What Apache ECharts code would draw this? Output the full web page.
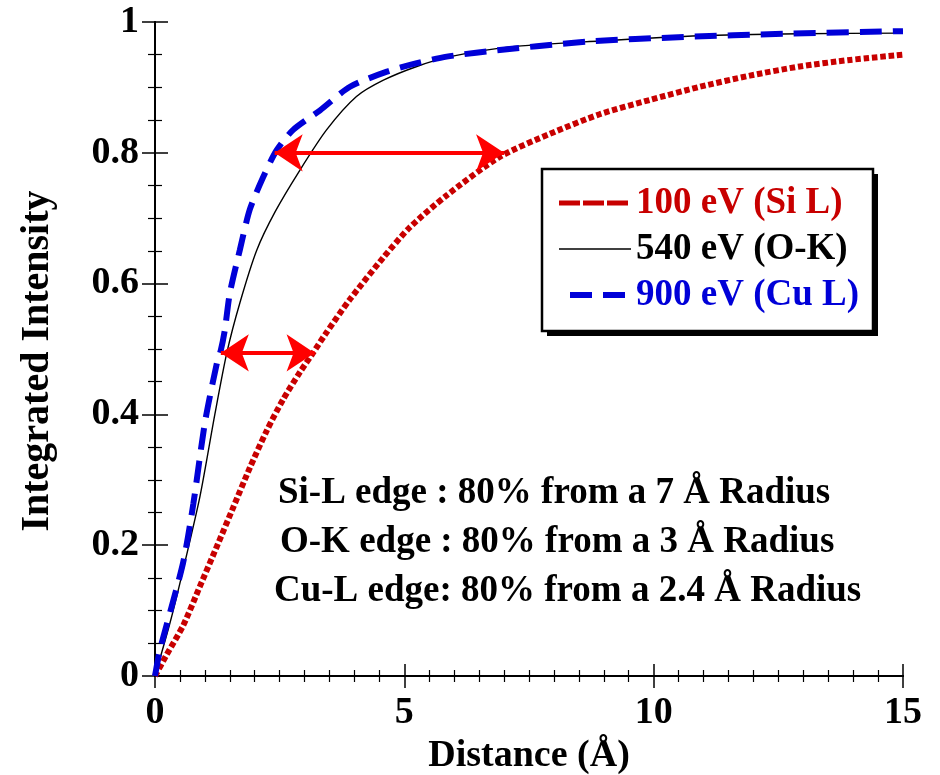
<!DOCTYPE html>
<html>
<head>
<meta charset="utf-8">
<script src="https://cdn.jsdelivr.net/npm/echarts@6/dist/echarts.min.js"></script>
<style>
  html, body { margin: 0; padding: 0; background: #ffffff; }
  #chart { width: 940px; height: 775px; }
</style>
</head>
<body>
<div id="chart"></div>
<script>
// Integrated intensity versus distance for three energy-loss edges
const seriesNames = ['100 eV (Si L)', '540 eV (O-K)', '900 eV (Cu L)'];

// 100 eV (Si L)
const siX = [0, 0.23, 0.57, 0.9, 1.24, 1.57, 1.9, 2.24, 2.57, 2.91, 3.17, 3.41, 3.91, 4.58, 5.11, 5.85, 6.92, 7.92, 8.92, 9.93, 10.93, 11.93, 12.93, 13.94, 15];
const siY = [0, 0.032, 0.078, 0.137, 0.198, 0.258, 0.318, 0.375, 0.423, 0.465, 0.494, 0.522, 0.576, 0.640, 0.686, 0.735, 0.794, 0.829, 0.859, 0.881, 0.901, 0.918, 0.932, 0.942, 0.950];

// 540 eV (O-K)
const okX = [0, 0.3, 0.5, 0.9, 1.2, 1.44, 1.7, 2.04, 2.41, 2.91, 3.44, 4.04, 4.58, 5.25, 5.92, 7.12, 8.92, 10.93, 12.93, 15];
const okY = [0, 0.081, 0.142, 0.274, 0.40, 0.494, 0.570, 0.651, 0.710, 0.774, 0.835, 0.886, 0.911, 0.932, 0.947, 0.962, 0.971, 0.979, 0.982, 0.983];

// 900 eV (Cu L)
const cuX = [0, 0.1, 0.56, 0.77, 1.0, 1.24, 1.32, 1.40, 1.50, 1.70, 1.90, 2.17, 2.44, 2.77, 3.31, 3.91, 4.65, 5.25, 5.85, 6.65, 8.66, 10.6, 12.6, 15];
const cuY = [0, 0.04, 0.172, 0.264, 0.387, 0.478, 0.498, 0.529, 0.585, 0.651, 0.713, 0.763, 0.804, 0.835, 0.865, 0.901, 0.924, 0.937, 0.947, 0.955, 0.970, 0.977, 0.982, 0.986];

// Double-headed arrows: [fromX, toX, level]
const arrowSpans = [
  [2.4, 7.0, 0.8],
  [1.32, 3.2, 0.494]
];

const notes = [
  'Si-L edge : 80% from a 7 \u00C5 Radius',
  'O-K edge : 80% from a 3 \u00C5 Radius',
  'Cu-L edge: 80% from a 2.4 \u00C5 Radius'
];

const xTitle = 'Distance (\u00C5)';
const yTitle = 'Integrated Intensity';

const FONT = '"Liberation Serif", "Times New Roman", serif';
const RED = '#c80000';
const BLUE = '#0000d8';

const zip = (xs, ys) => xs.map((x, i) => [x, ys[i]]);

const chart = echarts.init(document.getElementById('chart'), null, { renderer: 'canvas' });

const baseX = {
  type: 'value', min: 0, max: 15, interval: 5,
  axisLine: { show: true, lineStyle: { color: '#000', width: 2 } },
  axisTick: { show: true, inside: true, length: 12, lineStyle: { color: '#000', width: 1.5 } },
  minorTick: { show: true, splitNumber: 10, length: 6, lineStyle: { color: '#000', width: 1.2 } },
  splitLine: { show: false },
  minorSplitLine: { show: false }
};
const baseY = {
  type: 'value', min: 0, max: 1, interval: 0.2,
  axisLine: { show: true, lineStyle: { color: '#000', width: 2 } },
  axisTick: { show: true, inside: true, length: 13, lineStyle: { color: '#000', width: 1.5 } },
  minorTick: { show: true, splitNumber: 4, length: 7, lineStyle: { color: '#000', width: 1.2 } },
  splitLine: { show: false },
  minorSplitLine: { show: false }
};

// legend frame: shadow block plus bordered white panel
const frame = { x: 542, y: 169, w: 331, h: 162, shadow: 5 };

const hiddenMarker = { opacity: 0 };

const option = {
  backgroundColor: '#ffffff',
  animation: false,
  grid: { left: 155, right: 37, top: 22, bottom: 99, containLabel: false, outerBoundsMode: 'none' },
  xAxis: [
    Object.assign({}, baseX, {
      position: 'bottom',
      name: xTitle, nameLocation: 'middle', nameGap: 58,
      nameTextStyle: { fontFamily: FONT, fontWeight: 'bold', fontSize: 38, color: '#000' },
      axisLabel: { show: true, margin: 18, fontFamily: FONT, fontWeight: 'bold', fontSize: 38, color: '#000' }
    }),
    Object.assign({}, baseX, { position: 'top', axisLabel: { show: false } })
  ],
  yAxis: [
    Object.assign({}, baseY, {
      position: 'left',
      name: yTitle, nameLocation: 'middle', nameGap: 97, nameRotate: 90,
      nameTextStyle: { fontFamily: FONT, fontWeight: 'bold', fontSize: 40, color: '#000', padding: [0, 24, 0, 0] },
      axisLabel: {
        show: true, margin: 16, fontFamily: FONT, fontWeight: 'bold', fontSize: 38, color: '#000',
        formatter: v => (v === 0 || v === 1) ? String(v) : v.toFixed(1)
      }
    }),
    Object.assign({}, baseY, { position: 'right', axisLabel: { show: false } })
  ],
  legend: {
    orient: 'vertical',
    left: frame.x, top: frame.y,
    padding: [14, 12, 14, 14],
    backgroundColor: 'transparent',
    borderWidth: 0,
    itemWidth: 72, itemHeight: 8, itemGap: 6,
    selectedMode: false,
    z: 12,
    textStyle: { fontFamily: FONT, fontWeight: 'bold', fontSize: 37, lineHeight: 40 },
    data: [
      { name: seriesNames[0], itemStyle: hiddenMarker, textStyle: { color: RED }, lineStyle: { type: [21, 3], width: 5, color: RED, cap: 'butt' } },
      { name: seriesNames[1], itemStyle: hiddenMarker, textStyle: { color: '#000' }, lineStyle: { type: 'solid', width: 1.4, color: '#000' } },
      { name: seriesNames[2], itemStyle: hiddenMarker, textStyle: { color: BLUE }, lineStyle: { type: [22, 11], dashOffset: 22, width: 6, color: BLUE, cap: 'butt' } }
    ]
  },
  series: [
    {
      name: seriesNames[0], type: 'line', data: zip(siX, siY),
      symbol: 'none', smooth: 0.25, z: 3,
      lineStyle: { color: RED, width: 6, type: [5.5, 2.8], cap: 'butt' },
      itemStyle: { color: RED }
    },
    {
      name: seriesNames[1], type: 'line', data: zip(okX, okY),
      symbol: 'none', smooth: 0.25, z: 2,
      lineStyle: { color: '#000', width: 1.4, type: 'solid' },
      itemStyle: { color: '#000' },
      markLine: {
        silent: true,
        symbol: ['arrow', 'arrow'],
        symbolSize: [28, 28],
        label: { show: false },
        emphasis: { disabled: true },
        lineStyle: { color: '#ff0000', width: 4, type: 'solid' },
        itemStyle: { color: '#ff0000' },
        data: arrowSpans.map(s => [{ coord: [s[0], s[2]] }, { coord: [s[1], s[2]] }])
      }
    },
    {
      name: seriesNames[2], type: 'line', data: zip(cuX, cuY),
      symbol: 'none', smooth: 0.25, z: 4,
      lineStyle: { color: BLUE, width: 6, type: [22, 11], cap: 'butt' },
      itemStyle: { color: BLUE }
    }
  ],
  graphic: [
    {
      type: 'rect', z: 10, silent: true,
      shape: { x: frame.x + frame.shadow, y: frame.y + frame.shadow, width: frame.w, height: frame.h },
      style: { fill: '#000' }
    },
    {
      type: 'rect', z: 11, silent: true,
      shape: { x: frame.x, y: frame.y, width: frame.w, height: frame.h },
      style: { fill: '#fff', stroke: '#000', lineWidth: 2.5 }
    }
  ].concat(notes.map((t, i) => ({
    type: 'text',
    x: [278, 280, 274][i],
    y: [493, 542, 591][i],
    z: 10,
    style: {
      text: t,
      fill: '#000',
      font: 'bold 37px ' + FONT,
      verticalAlign: 'middle',
      align: 'left'
    }
  })))
};

chart.setOption(option);
</script>
</body>
</html>
